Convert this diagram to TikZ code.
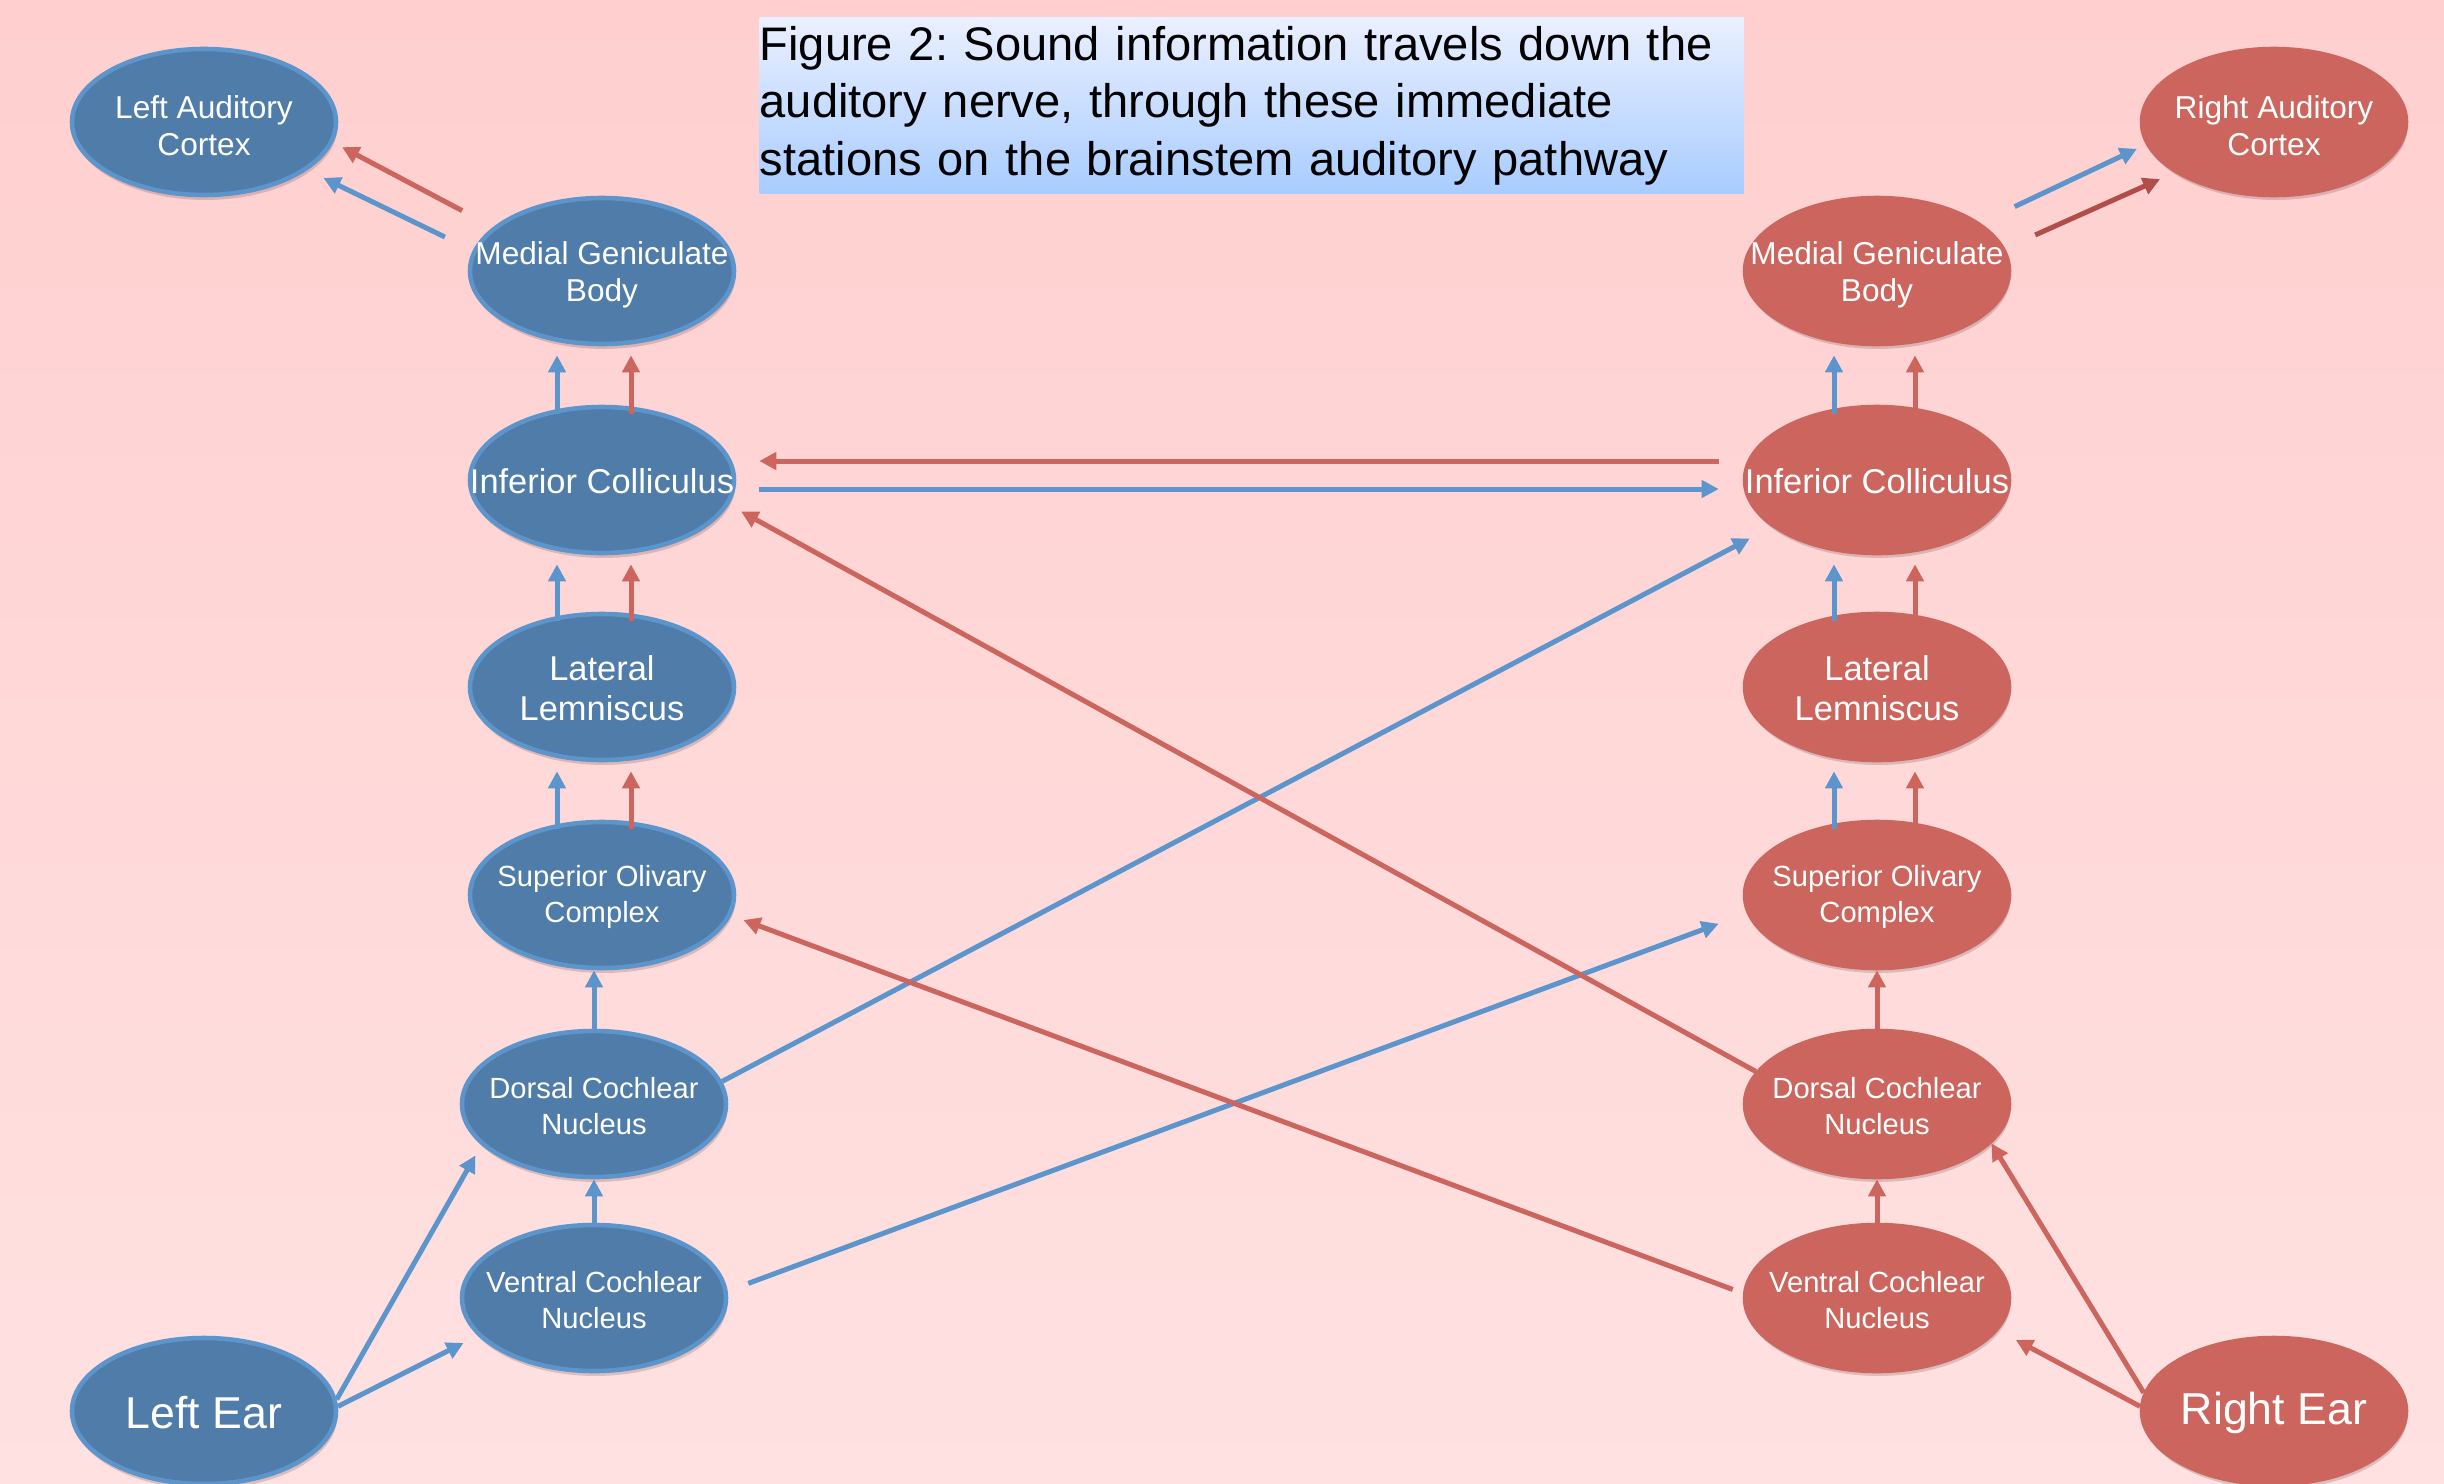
\documentclass[tikz,border=0pt]{standalone}
\usepackage{fontspec}
\setmainfont{Liberation Sans}
\usetikzlibrary{shapes.geometric,arrows.meta,shadows}
\frenchspacing

\definecolor{bgtop}{RGB}{255,207,207}
\definecolor{bgbot}{RGB}{255,225,225}
\definecolor{nodeblue}{RGB}{79,124,168}
\definecolor{edgeblue}{RGB}{92,148,204}
\definecolor{nodered}{RGB}{204,101,93}
\definecolor{darkred}{RGB}{178,78,74}
\definecolor{titletop}{RGB}{234,240,255}
\definecolor{titlebot}{RGB}{168,204,255}

\tikzset{
  station/.style={ellipse, inner sep=0pt, minimum width=2.64cm, minimum height=1.46cm,
    line width=1.3pt,
    drop shadow={shadow xshift=0.4pt, shadow yshift=-1.4pt, fill=black!70!nodered, opacity=0.18}},
  bnode/.style={station, draw=edgeblue, fill=nodeblue},
  rnode/.style={station, draw=nodered, fill=nodered},
  smalltxt/.style={text=white, align=center, font=\fontsize{8.3}{10.2}\selectfont, yshift=-0.02cm},
  midtxt/.style={text=white, align=center, font=\fontsize{9}{10.6}\selectfont, yshift=-0.04cm},
  bigtxt/.style={text=white, align=center, font=\fontsize{9.8}{11.5}\selectfont, yshift=-0.01cm},
  eartxt/.style={text=white, align=center, font=\fontsize{12.7}{15}\selectfont, yshift=-0.02cm},
  titlebox/.style={top color=titletop, bottom color=titlebot, text width=9.84cm, align=left,
    inner xsep=0pt, inner ysep=0pt, minimum height=1.76cm, font=\fontsize{13.4}{16.4}\selectfont},
  link/.style={line width=0.05cm, -{Triangle[length=0.17cm,width=0.17cm]}},
  bluearr/.style={link, draw=edgeblue, fill=edgeblue},
  redarr/.style={link, draw=nodered, fill=nodered},
  rise/.style={shorten <=-0.09cm, shorten >=0.09cm}
}

\begin{document}
\begin{tikzpicture}
  \useasboundingbox (0,0) rectangle (24.44,-14.83);
  \shade[top color=bgtop, bottom color=bgbot] (0,0) rectangle (24.44,-14.83);

  \node[titlebox, anchor=north west] (title) at (7.59,-0.17)
    {Figure 2: Sound information travels down the\\auditory nerve, through these immediate\\stations on the brainstem auditory pathway};

  % left side
  \node[bnode, label={[midtxt]center:Left Auditory\\Cortex}] (lac) at (2.04,-1.22) {};
  \node[bnode, label={[midtxt]center:Medial Geniculate\\Body}] (lmgb) at (6.02,-2.71) {};
  \node[bnode, label={[bigtxt]center:Inferior Colliculus}] (lic) at (6.02,-4.80) {};
  \node[bnode, label={[bigtxt]center:Lateral\\Lemniscus}] (lll) at (6.02,-6.87) {};
  \node[bnode, label={[smalltxt]center:Superior Olivary\\Complex}] (lsoc) at (6.02,-8.95) {};
  \node[bnode, label={[smalltxt]center:Dorsal Cochlear\\Nucleus}] (ldcn) at (5.94,-11.04) {};
  \node[bnode, label={[smalltxt]center:Ventral Cochlear\\Nucleus}] (lvcn) at (5.94,-12.98) {};
  \node[bnode, label={[eartxt]center:Left Ear}] (lear) at (2.04,-14.11) {};

  % right side
  \node[rnode, label={[midtxt]center:Right Auditory\\Cortex}] (rac) at (22.74,-1.22) {};
  \node[rnode, label={[midtxt]center:Medial Geniculate\\Body}] (rmgb) at (18.77,-2.71) {};
  \node[rnode, label={[bigtxt]center:Inferior Colliculus}] (ric) at (18.77,-4.80) {};
  \node[rnode, label={[bigtxt]center:Lateral\\Lemniscus}] (rll) at (18.77,-6.87) {};
  \node[rnode, label={[smalltxt]center:Superior Olivary\\Complex}] (rsoc) at (18.77,-8.95) {};
  \node[rnode, label={[smalltxt]center:Dorsal Cochlear\\Nucleus}] (rdcn) at (18.77,-11.04) {};
  \node[rnode, label={[smalltxt]center:Ventral Cochlear\\Nucleus}] (rvcn) at (18.77,-12.98) {};
  \node[rnode, label={[eartxt]center:Right Ear}] (rear) at (22.74,-14.11) {};

  % left column upwards
  \draw[bluearr, shorten >=0.12cm] (lear.5) -- (ldcn.200);
  \draw[bluearr, shorten >=0.16cm] (lear.2) -- (lvcn.198);
  \draw[bluearr] (lvcn.north) -- (ldcn.south);
  \draw[bluearr] (ldcn.north) -- (ldcn.north |- lsoc.south);
  \draw[bluearr, rise] ([xshift=-0.45cm]lsoc.north) -- ([xshift=-0.45cm]lll.south);
  \draw[redarr, rise] ([xshift=0.29cm]lsoc.north) -- ([xshift=0.29cm]lll.south);
  \draw[bluearr, rise] ([xshift=-0.45cm]lll.north) -- ([xshift=-0.45cm]lic.south);
  \draw[redarr, rise] ([xshift=0.29cm]lll.north) -- ([xshift=0.29cm]lic.south);
  \draw[bluearr, rise] ([xshift=-0.45cm]lic.north) -- ([xshift=-0.45cm]lmgb.south);
  \draw[redarr, rise] ([xshift=0.29cm]lic.north) -- ([xshift=0.29cm]lmgb.south);
  \draw[bluearr, shorten <=0.31cm, shorten >=0.18cm] (lmgb.171) -- (lac.335);
  \draw[redarr, shorten <=0.35cm, shorten >=0.10cm] (lmgb.158) -- (lac.351);

  % right column upwards
  \draw[redarr] (rear.172) -- (rdcn.341);
  \draw[redarr, shorten >=0.2cm] (rear.178) -- (rvcn.345);
  \draw[redarr, shorten <=-0.1cm] (rvcn.north) -- (rdcn.south);
  \draw[redarr] (rdcn.north) -- (rsoc.south);
  \draw[bluearr, rise] ([xshift=-0.43cm]rsoc.north) -- ([xshift=-0.43cm]rll.south);
  \draw[redarr, rise] ([xshift=0.38cm]rsoc.north) -- ([xshift=0.38cm]rll.south);
  \draw[bluearr, rise] ([xshift=-0.43cm]rll.north) -- ([xshift=-0.43cm]ric.south);
  \draw[redarr, rise] ([xshift=0.38cm]rll.north) -- ([xshift=0.38cm]ric.south);
  \draw[bluearr, rise] ([xshift=-0.43cm]ric.north) -- ([xshift=-0.43cm]rmgb.south);
  \draw[redarr, rise] ([xshift=0.38cm]ric.north) -- ([xshift=0.38cm]rmgb.south);
  \draw[bluearr, shorten <=0.38cm, shorten >=0.10cm] (rmgb.25) -- (rac.190);
  \draw[redarr, draw=darkred, fill=darkred, shorten <=0.33cm, shorten >=0.16cm] (rmgb.10) -- (rac.207);

  % crossings
  \draw[redarr, shorten <=0.24cm, shorten >=0.23cm] ([yshift=0.19cm]ric.west) -- ([yshift=0.19cm]lic.east);
  \draw[bluearr, shorten <=0.23cm, shorten >=0.24cm] ([yshift=-0.09cm]lic.east) -- ([yshift=-0.09cm]ric.west);
  \draw[bluearr, shorten >=0.25cm] (ldcn.10) -- (ric.204);
  \draw[bluearr, shorten <=0.22cm, shorten >=0.30cm] (lvcn.3) -- (rsoc.188);
  \draw[redarr, shorten >=0.14cm] (rdcn.165) -- (lic.349);
  \draw[redarr, shorten <=0.11cm, shorten >=0.13cm] (rvcn.178) -- (lsoc.351);
\end{tikzpicture}
\end{document}
